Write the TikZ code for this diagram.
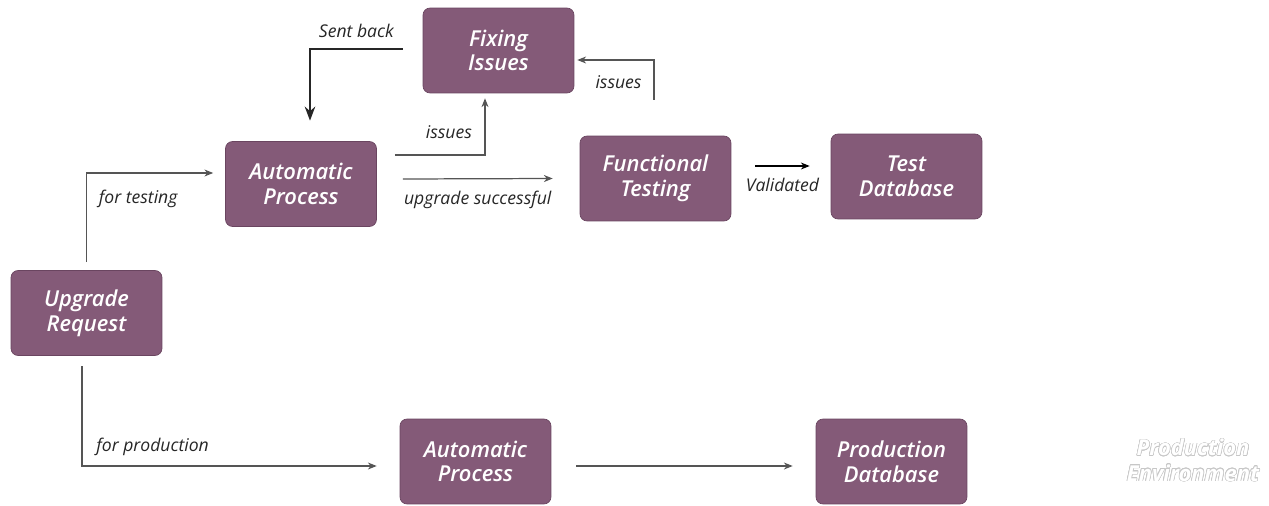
\documentclass[tikz,border=0pt]{standalone}
\usepackage{fontspec}
\setmainfont{Open Sans}
\newfontfamily\boxfont{Open Sans Semibold Italic}
\usepackage[copies]{contour}
\usetikzlibrary{calc,arrows.meta}
\definecolor{boxplum}{HTML}{845A78}
\definecolor{boxedge}{HTML}{6A4560}
\definecolor{linegray}{HTML}{555555}
\begin{document}
\begin{tikzpicture}[x=0.02cm, y=0.02cm,
    box/.style={draw=boxedge, fill=boxplum, rounded corners=4pt, thin,
        minimum width=3.02cm, minimum height=1.7cm, align=center,
        text=white, font=\fontsize{12.5}{14}\selectfont\boxfont},
    flow/.style={draw=linegray, line width=0.7pt, -{Stealth[length=5pt, width=4pt]}},
    lbl/.style={font=\fontsize{10}{12}\selectfont\itshape, text=black!85}]
    \useasboundingbox (0,0) rectangle (1269,505);

    \node[box] (upgrade) at (86.5,192) {Upgrade\\Request};
    \node[box] (auto1) at (301,321) {Automatic\\Process};
    \node[box] (fix) at (498.5,454.5) {Fixing\\Issues};
    \node[box] (func) at (655.5,326.5) {Functional\\Testing};
    \node[box] (testdb) at (906.5,328.5) {Test\\Database};
    \node[box] (auto2) at (475.5,43.5) {Automatic\\Process};
    \node[box] (proddb) at (891.5,43.5) {Production\\Database};
    \node[align=center, text=white, font=\fontsize{12.5}{14.5}\selectfont\bfseries\itshape]
        (env) at (1193,44.5) {\contourlength{0.3pt}\contour{black!22}{Production}\\\contour{black!22}{Environment}};

    % testing branch
    \draw[flow] ($(upgrade.north)+(0,8)$) |- ($(auto1.west)+(-12,11)$)
        node[lbl, pos=0.5, anchor=north west, xshift=0.12cm, yshift=-0.22cm] {for testing};
    \draw[flow] ($(auto1.east)+(26,5)$) -- ($(func.west)+(-27,0)$)
        node[lbl, midway, below=0.12cm] {upgrade successful};
    \draw[flow] ($(auto1.east)+(18,29)$) -| ($(fix.south)+(-13.5,-5)$)
        node[lbl, pos=0.3, above=0.2cm] {issues};
    \draw[flow, line width=1.1pt, draw=black!85, -{Stealth[length=8pt, width=6pt]}]
        ($(fix.west)+(-20,1.5)$) -| ($(auto1.north)+(9,20.5)$)
        node[lbl, pos=0.25, above=0.1cm] {Sent back};
    \draw[flow] ($(func.north)+(-1.5,36)$) |- ($(fix.east)+(3,-9.5)$)
        node[lbl, pos=0.5, anchor=north east, xshift=-0.12cm, yshift=-0.18cm] {issues};
    \draw[flow, draw=black] ($(func.east)+(24,12.5)$) -- ($(testdb.west)+(-21,10.5)$)
        node[lbl, midway, below=0.12cm] {Validated};

    % production branch
    \draw[flow] ($(upgrade.south)+(-4.5,-10.5)$) |- ($(auto2.west)+(-23,-4.5)$)
        node[lbl, pos=0.5, anchor=south west, xshift=0.16cm, yshift=0.08cm] {for production};
    \draw[flow] ($(auto2.east)+(25,-4.5)$) -- ($(proddb.west)+(-23,-4.5)$);
\end{tikzpicture}
\end{document}
